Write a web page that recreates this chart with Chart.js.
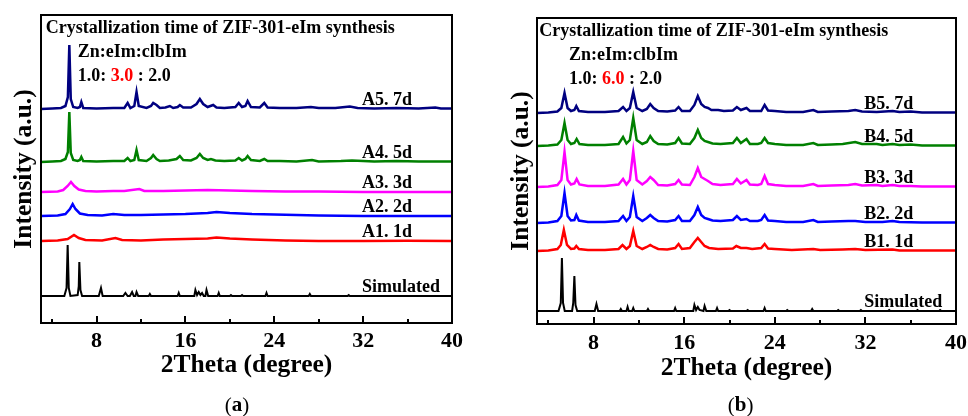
<!DOCTYPE html>
<html><head><meta charset="utf-8">
<script src="https://cdn.jsdelivr.net/npm/chart.js@4.4.1/dist/chart.umd.min.js"></script>
<style>
html,body{margin:0;padding:0;background:#fff;width:968px;height:416px;overflow:hidden}
canvas{position:absolute;top:0}
#ca{left:0}
#cb{left:490px}
</style></head><body>
<canvas id="ca" width="480" height="416"></canvas>
<canvas id="cb" width="478" height="416"></canvas>
<script>
// ---------- data ----------
const xTickLabels = [8, 16, 24, 32, 40];
const xMinorTicks = [4, 12, 20, 28, 36];

const seriesNamesA = ['Simulated', 'A1. 1d', 'A2. 2d', 'A3. 3d', 'A4. 5d', 'A5. 7d'];
const seriesNamesB = ['Simulated', 'B1. 1d', 'B2. 2d', 'B3. 3d', 'B4. 5d', 'B5. 7d'];
const offsetsA = [27, 82, 107, 131, 161, 214];
const offsetsB = [13, 73, 101, 137, 178, 211];

const simA = [[3,0],[5.1,0],[5.3,8],[5.4,51],[5.5,8],[5.65,0],[6.3,1],[6.4,10],[6.45,34],[6.55,6],[6.7,0],[8.2,0],[8.4,8],[8.55,0],[10.4,0],[10.6,3],[10.8,0],[11.0,0],[11.2,4],[11.35,0],[11.5,0],[11.6,4],[11.75,0],[12.7,0],[12.8,2],[12.9,0],[15.3,0],[15.4,3],[15.5,0],[16.8,0],[16.9,6],[17.05,1],[17.2,4],[17.35,1],[17.5,3],[17.65,0],[17.8,0],[17.9,6],[18.05,0],[18.9,0],[19.0,3],[19.1,0],[20.0,0],[20.1,1],[20.2,0],[21.0,0],[21.1,1],[21.2,0],[23.2,0],[23.3,3],[23.4,0],[27.1,0],[27.2,2],[27.3,0],[30.6,0],[30.7,1],[30.8,0],[40,0]];
const A1 = [[3,0],[4.5,0.5],[5.4,2],[5.97,6],[6.4,3],[7,1],[8.5,0.5],[9.7,3],[10.3,1],[12,0.5],[14,1.5],[16,2],[18,2.5],[18.8,3.5],[20,2.5],[22,1.5],[25,0.5],[28,0],[32,0],[36,0.3],[40,0]];
const A2 = [[3,0],[4.5,0.5],[5.2,2],[5.6,7],[5.85,12],[6.1,7],[6.5,2.5],[7.2,1],[8.5,0.5],[9.5,2],[10.5,1],[12,1],[14,1.5],[16,2],[18,3],[18.8,4],[20,3],[22,2],[24,1.5],[26,1],[28,0.5],[32,0],[36,0],[40,0]];
const A3 = [[3,0],[4.5,0.5],[5.0,2],[5.4,6],[5.7,10],[6.0,6],[6.4,2.5],[7,1],[8,0.5],[9.5,1],[10.5,1],[11.85,3],[12.3,1],[14,1],[16,1.5],[18,2],[20,1.5],[22,1],[25,0.5],[28,0.5],[32,0],[36,0],[40,0]];
const A4 = [[3,0],[4,0.5],[4.8,1],[5.2,3],[5.42,10],[5.55,50],[5.68,9],[5.9,2],[6.3,1],[6.5,2],[6.63,5],[6.8,1],[8,0.5],[9.5,1],[10.5,1],[10.8,4],[11.05,1],[11.4,2],[11.6,12],[11.8,2],[12.5,1],[12.9,4],[13.1,7],[13.4,3],[13.7,1],[14.5,1.5],[15.2,3],[15.5,6],[15.8,2],[16.5,1.5],[17.0,4],[17.3,8],[17.6,4],[18.0,2],[18.3,3],[18.7,1.5],[19.5,1],[20.5,1.5],[20.8,4],[21.1,1.5],[21.4,3],[21.6,6],[21.9,2],[22.7,1],[23.1,3],[23.4,1],[24.5,1],[26,0.5],[27.4,2],[28,0.5],[30,1],[31,1.5],[33,0.5],[35,1],[37,0.5],[39,0.5],[40,0.5]];
const A5 = [[3,0],[4,0.5],[4.8,1],[5.2,3],[5.42,12],[5.55,64],[5.68,10],[5.9,2],[6.3,1],[6.5,2],[6.63,7],[6.8,1],[8,0.5],[9.5,1],[10.5,1],[10.8,6],[11.05,1],[11.4,3],[11.6,17],[11.8,3],[12.5,1],[12.9,3],[13.1,6],[13.4,4],[13.7,1],[14.2,1.5],[14.6,3],[14.9,1],[15.3,2],[15.5,4],[15.8,1.5],[16.5,1.5],[17.0,5],[17.3,10],[17.6,5],[18.0,2],[18.5,4],[18.8,1.5],[19.5,1],[20.5,2],[20.8,6],[21.1,2],[21.4,3],[21.6,8],[21.9,2],[22.7,1.5],[23.1,6],[23.4,1.5],[24.5,1],[26,1],[27.3,2],[28,1],[29.5,1],[30.8,2.5],[31.5,1],[33,0.5],[35,1],[37,0.5],[38.5,1.5],[39,0.5],[40,0.5]];

const simB = [[3,0],[4.9,0],[5.1,8],[5.2,53],[5.3,8],[5.45,0],[6.1,0],[6.2,8],[6.3,35],[6.4,6],[6.55,0],[8.1,0],[8.25,7],[8.4,0],[10.3,0],[10.4,2],[10.5,0],[10.9,0],[11.0,4],[11.1,0],[11.4,0],[11.5,3],[11.6,0],[12.7,0],[12.8,2],[12.9,0],[15.1,0],[15.2,3],[15.3,0],[16.8,0],[16.9,6],[17.05,1],[17.2,4],[17.35,1],[17.7,0],[17.8,5],[17.95,0],[18.8,0],[18.9,3],[19.0,0],[19.9,0],[20.0,1],[20.1,0],[21.5,0],[21.6,1],[21.7,0],[23.0,0],[23.1,3],[23.2,0],[25,0],[25.1,1],[25.2,0],[27.2,0],[27.3,2],[27.4,0],[29.5,0],[29.6,1],[29.7,0],[31.5,0],[31.6,1],[31.7,0],[34,0],[34.1,1],[34.2,0],[36.5,0],[36.6,1],[36.7,0],[38.5,0],[38.6,1],[38.7,0],[40,0]];
const B1 = [[3,0],[4,0.5],[4.8,2],[5.1,6],[5.37,21],[5.65,6],[6.0,2],[6.3,2.5],[6.47,5],[6.7,2],[7.5,1],[9,1],[10.2,2],[10.55,6],[10.9,2],[11.2,5],[11.5,20],[11.8,5],[12.3,2],[12.7,4],[13.0,6],[13.3,4],[13.7,2],[14.5,1.5],[15.2,3],[15.5,7],[15.8,2],[16.5,3],[16.9,9],[17.2,13],[17.5,9],[17.8,5],[18.2,3],[19,2],[20.3,2.5],[20.6,5],[21.0,3],[21.5,3],[22,2],[22.8,3],[23.1,7],[23.4,2.5],[24,2],[25.5,1],[27.4,2],[28,1],[30,1.5],[31.1,2],[32,1],[34.4,1.5],[35,0.5],[37,0.5],[40,0.5]];
const B2 = [[3,0],[4,0.5],[4.8,2],[5.15,7],[5.43,30],[5.7,7],[6.0,2.5],[6.3,3],[6.47,8],[6.7,2.5],[7.5,1],[9,1],[10.2,2],[10.6,7],[10.9,2],[11.2,6],[11.5,27],[11.8,6],[12.3,2],[12.7,5],[13.0,8],[13.3,5],[13.7,2],[14.5,1.5],[15.2,3],[15.5,7],[15.8,2],[16.5,2],[16.9,8],[17.2,16],[17.5,8],[17.8,5],[18.1,4],[18.5,2.5],[19.2,2],[20.3,3],[20.65,7],[21.0,3],[21.5,4],[21.8,2],[22.5,2],[22.8,3],[23.1,8],[23.4,2.5],[24,2],[25,1],[26.5,1],[27.4,3],[27.8,1],[29,1.5],[30.5,2],[31.1,2],[32,1],[33.5,1],[34.4,2],[35,1],[37,0.5],[40,0.5]];
const B3 = [[3,0],[4,0.5],[4.8,2],[5.15,7],[5.43,35],[5.7,7],[6.0,2.5],[6.3,3.5],[6.5,8],[6.75,2.5],[7.5,1],[9,1],[10.2,2.5],[10.6,8],[10.9,2.5],[11.2,7],[11.5,36],[11.8,7],[12.3,2.5],[12.7,6],[13.0,10],[13.3,7],[13.7,2],[14.5,1.5],[15.2,3],[15.5,7],[15.8,2.5],[16.5,2],[16.9,10],[17.2,19],[17.5,10],[17.8,8],[18.1,6],[18.5,3],[19.2,2],[20.3,3],[20.65,8],[21.0,3.5],[21.5,7],[21.8,2.5],[22.5,2],[22.8,3],[23.1,11],[23.4,3],[24,2],[25,1],[26.5,1],[27.4,3],[27.8,1],[29,1.5],[30.5,2],[31.1,3],[31.7,1.5],[33,2],[33.5,1],[34.4,2],[35,1],[36,1],[37,0.5],[38,0.5],[40,0.5]];
const B4 = [[3,0],[4,0.5],[4.8,1.5],[5.15,6],[5.43,23],[5.7,6],[6.0,2],[6.3,3],[6.5,7],[6.75,2],[7.5,1],[9,1],[10.2,2],[10.6,9],[10.9,2.5],[11.2,6],[11.5,28],[11.8,6],[12.3,2],[12.7,4],[13.0,10],[13.3,5],[13.7,2],[14.5,1.5],[15.2,3],[15.5,8],[15.8,2.5],[16.5,2],[16.9,8],[17.2,16],[17.5,8],[17.8,5],[18.1,4],[18.5,2.5],[19.2,2],[20.3,3],[20.65,8],[21.0,3],[21.5,7],[21.8,2],[22.5,2],[22.8,3],[23.1,8],[23.4,3],[24,2],[25,1],[26.5,1],[27.4,3],[27.8,1],[29,1.5],[30,2],[31.1,4],[31.7,2],[33,2],[33.5,1],[34.4,2],[35,1],[36,1.5],[37,0.5],[38,0.5],[40,0.5]];
const B5 = [[3,0],[4,0.5],[4.8,1.5],[5.15,5],[5.43,20],[5.7,5],[6.0,2],[6.3,3],[6.47,7],[6.7,2],[7.5,1],[9,1],[10.2,2],[10.6,6],[10.9,2],[11.2,5],[11.5,21],[11.8,5],[12.3,2],[12.7,4],[13.0,9],[13.3,5],[13.7,2],[14.5,1.5],[15.2,2.5],[15.5,6],[15.8,2],[16.5,2],[16.9,8],[17.2,17],[17.5,9],[17.8,6],[18.1,5],[18.4,3],[19.0,3],[19.5,2],[20.3,2.5],[20.65,6],[21.0,3],[21.5,5],[21.8,2],[22.3,2],[22.8,2],[23.1,8],[23.4,2.5],[24,2],[25,1],[26.5,1],[27.4,3],[27.8,1],[29,1.5],[30.5,2],[31.1,3],[31.7,1.5],[33,1],[34.4,2],[35,1],[36,1.5],[37,0.5],[38,0.5],[40,0.5]];

const seriesA = [simA, A1, A2, A3, A4, A5];
const seriesB = [simB, B1, B2, B3, B4, B5];

// ---------- styles ----------
const lineColors = ['#000000', '#ff0000', '#0000ff', '#ff00ff', '#008000', '#000080'];
const lineWidths = [2, 2.5, 2.5, 2.5, 2.5, 2.5];
const FONT = '"Liberation Serif", "Times New Roman", serif';

function makePanel(id, cfg) {
  const datasets = cfg.series.map((pts, i) => ({
    label: cfg.names[i],
    data: pts.map(([x, y]) => ({ x: x, y: y + cfg.offsets[i] })),
    borderColor: lineColors[i],
    borderWidth: lineWidths[i],
    pointRadius: 0,
    tension: 0,
    fill: false
  }));

  const decor = {
    id: 'decor' + id,
    afterDatasetsDraw(chart) {
      const ctx = chart.ctx;
      const xs = chart.scales.x, ys = chart.scales.y;
      const ca = chart.chartArea;
      ctx.save();
      ctx.fillStyle = '#000';
      ctx.font = 'bold 18px ' + FONT;
      ctx.textAlign = 'left';
      ctx.textBaseline = 'alphabetic';
      cfg.names.forEach((n, i) => {
        ctx.fillText(n, xs.getPixelForValue(cfg.labelX), ys.getPixelForValue(cfg.offsets[i]) - 4);
      });
      ctx.fillText('Crystallization time of ZIF-301-eIm synthesis', ca.left + cfg.titleDx, cfg.titleY);
      ctx.fillText('Zn:eIm:clbIm', ca.left + cfg.subDx, cfg.titleY + 24);
      let tx = ca.left + cfg.subDx, ty = cfg.titleY + 48;
      const parts = [['1.0: ', '#000'], [cfg.ratio, '#ff0000'], [' : 2.0', '#000']];
      parts.forEach(([t, c]) => {
        ctx.fillStyle = c;
        ctx.fillText(t, tx, ty);
        tx += ctx.measureText(t).width;
      });
      ctx.strokeStyle = '#000';
      ctx.lineWidth = 2;
      ctx.strokeRect(ca.left, ca.top, ca.right - ca.left, ca.bottom - ca.top);
      xTickLabels.forEach(v => {
        const px = Math.round(xs.getPixelForValue(v));
        ctx.beginPath(); ctx.moveTo(px, ca.bottom); ctx.lineTo(px, ca.bottom - 7); ctx.stroke();
      });
      xMinorTicks.forEach(v => {
        const px = Math.round(xs.getPixelForValue(v));
        ctx.beginPath(); ctx.moveTo(px, ca.bottom); ctx.lineTo(px, ca.bottom - 4); ctx.stroke();
      });
      ctx.fillStyle = '#000';
      ctx.textBaseline = 'middle';
      ctx.font = '21px ' + FONT;
      const w1 = ctx.measureText('(').width;
      ctx.font = 'bold 21px ' + FONT;
      const w2 = ctx.measureText(cfg.caption).width;
      ctx.font = '21px ' + FONT;
      const w3 = ctx.measureText(')').width;
      let cx = cfg.captionX - (w1 + w2 + w3) / 2;
      ctx.fillText('(', cx, cfg.captionY); cx += w1;
      ctx.font = 'bold 21px ' + FONT;
      ctx.fillText(cfg.caption, cx, cfg.captionY); cx += w2;
      ctx.font = '21px ' + FONT;
      ctx.fillText(')', cx, cfg.captionY);
      ctx.restore();
    }
  };

  return new Chart(document.getElementById(id), {
    type: 'line',
    data: { datasets },
    options: {
      responsive: false,
      animation: false,
      devicePixelRatio: 1,
      layout: { padding: cfg.padding },
      plugins: { legend: { display: false }, tooltip: { enabled: false }, title: { display: false } },
      scales: {
        x: {
          type: 'linear', min: 3, max: 40, offset: false,
          grid: { display: false, drawTicks: false },
          border: { display: false },
          ticks: { color: '#000', font: { family: FONT, size: 22, weight: 'bold' }, padding: cfg.tickPad, autoSkip: false, maxRotation: 0 },
          afterBuildTicks: s => { s.ticks = xTickLabels.map(v => ({ value: v })); },
          afterFit: s => { s.height = cfg.xHeight; s.paddingLeft = 0; s.paddingRight = 0; },
          title: { display: true, text: '2Theta (degree)', color: '#000', font: { family: FONT, size: 25.5, weight: 'bold' }, padding: { top: 0, bottom: 0 } }
        },
        y: {
          type: 'linear', min: 0, max: cfg.yMax,
          grid: { display: false, drawTicks: false },
          border: { display: false },
          ticks: { display: false },
          afterFit: s => { s.width = cfg.yWidth; s.paddingTop = 0; s.paddingBottom = 0; },
          title: { display: true, text: 'Intensity (a.u.)', color: '#000', font: { family: FONT, size: 25.5, weight: 'bold' }, padding: { top: cfg.yTitlePad, bottom: 0 } }
        }
      }
    },
    plugins: [decor]
  });
}

makePanel('ca', {
  series: seriesA, names: seriesNamesA, offsets: offsetsA, yMax: 308,
  padding: { left: 0, top: 15, right: 28, bottom: 35.3 },
  xHeight: 57.7, yWidth: 41, yTitlePad: 8.7, tickPad: 5,
  labelX: 31.9, titleDx: 4.7, titleY: 33, subDx: 36.7, ratio: '3.0',
  caption: 'a', captionX: 237, captionY: 406
});
makePanel('cb', {
  series: seriesB, names: seriesNamesB, offsets: offsetsB, yMax: 306,
  padding: { left: 0, top: 18, right: 12, bottom: 32 },
  xHeight: 60, yWidth: 47, yTitlePad: 15.7, tickPad: 6,
  labelX: 31.9, titleDx: 2.3, titleY: 35.7, subDx: 32, ratio: '6.0',
  caption: 'b', captionX: 250.7, captionY: 406
});
</script></body></html>
